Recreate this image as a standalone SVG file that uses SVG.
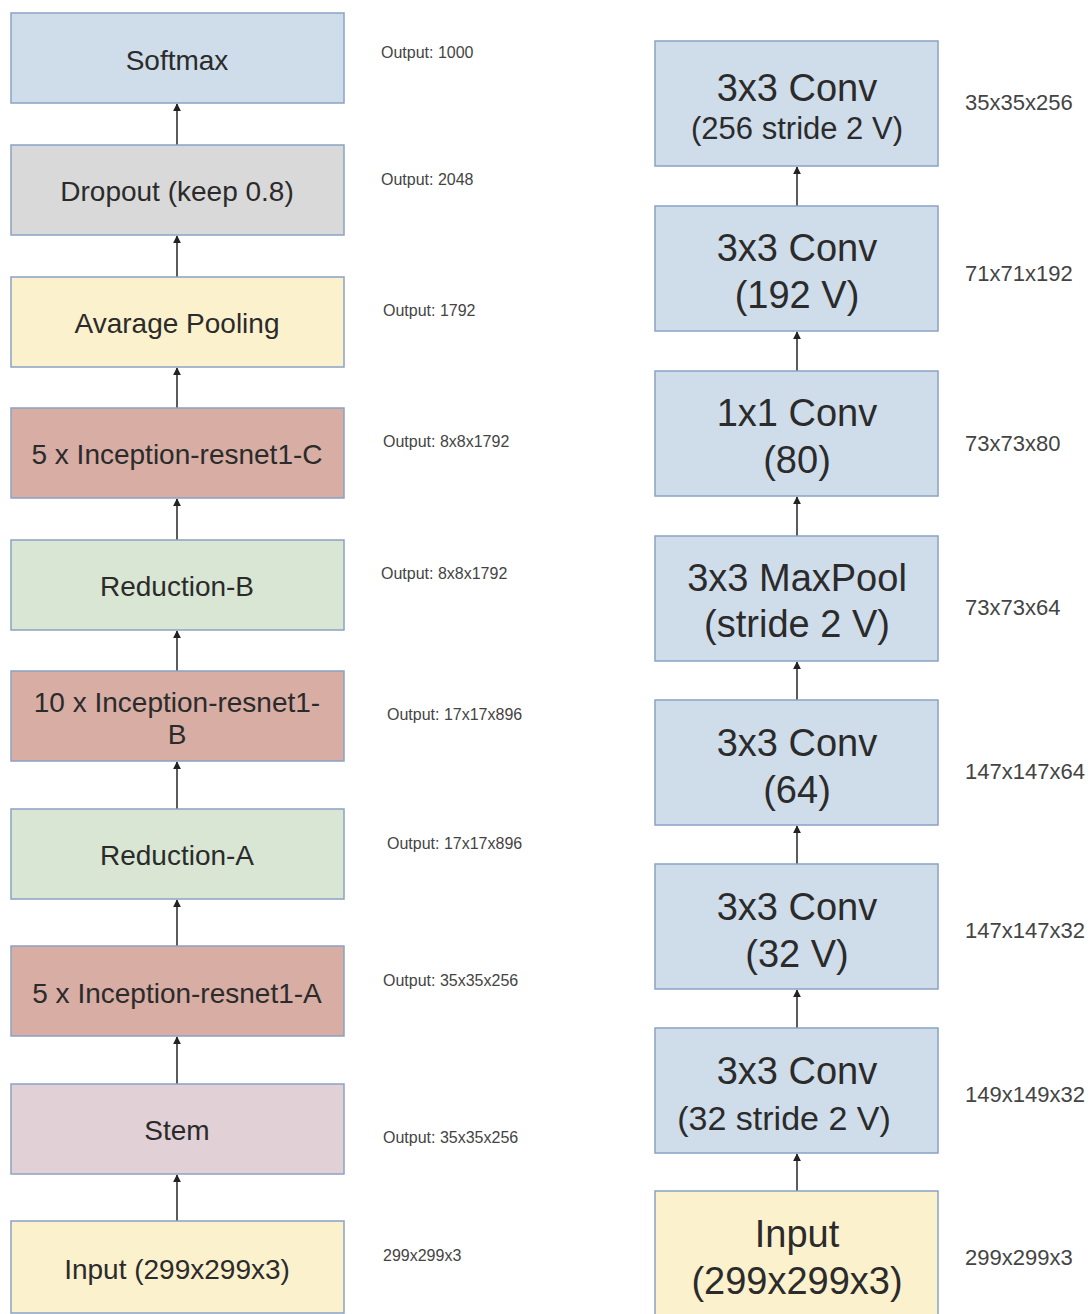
<svg xmlns="http://www.w3.org/2000/svg" width="1092" height="1314" viewBox="0 0 1092 1314">
<defs>
<marker id="ah" viewBox="0 0 10 10" refX="9" refY="5" markerWidth="8" markerHeight="8" markerUnits="userSpaceOnUse" orient="auto">
<path d="M0,0 L10,5 L0,10 z" fill="#222"/>
</marker>
<style>
.b{stroke:#8aa3c4;stroke-width:1.5}
.blue{fill:#cfdce9}
.grey{fill:#d9d9d9}
.yel{fill:#fcf1cd}
.red{fill:#d7ada4}
.grn{fill:#d9e6d4}
.pink{fill:#e2d0d7}
.lt{font-family:"Liberation Sans",Arial,sans-serif;font-size:28px;fill:#2b2b2b;text-anchor:middle}
.rt{font-family:"Liberation Sans",Arial,sans-serif;font-size:38px;fill:#2b2b2b;text-anchor:middle}
.sm{font-family:"Liberation Sans",Arial,sans-serif;font-size:16px;fill:#444}
.md{font-family:"Liberation Sans",Arial,sans-serif;font-size:22px;fill:#444}
.c{stroke:#333;stroke-width:1.6;fill:none;marker-end:url(#ah)}
</style>
</defs>
<rect width="1092" height="1314" fill="#ffffff"/>

<g id="connectors">
<line class="c" x1="177" y1="145" x2="177" y2="104"/>
<line class="c" x1="177" y1="277" x2="177" y2="236"/>
<line class="c" x1="177" y1="408" x2="177" y2="368"/>
<line class="c" x1="177" y1="540" x2="177" y2="499"/>
<line class="c" x1="177" y1="671" x2="177" y2="631"/>
<line class="c" x1="177" y1="809" x2="177" y2="762"/>
<line class="c" x1="177" y1="946" x2="177" y2="900"/>
<line class="c" x1="177" y1="1084" x2="177" y2="1037"/>
<line class="c" x1="177" y1="1221" x2="177" y2="1175"/>

<line class="c" x1="797" y1="206" x2="797" y2="167"/>
<line class="c" x1="797" y1="371" x2="797" y2="332"/>
<line class="c" x1="797" y1="536" x2="797" y2="497"/>
<line class="c" x1="797" y1="700" x2="797" y2="662"/>
<line class="c" x1="797" y1="864" x2="797" y2="826"/>
<line class="c" x1="797" y1="1028" x2="797" y2="990"/>
<line class="c" x1="797" y1="1191" x2="797" y2="1154"/>
</g>

<!-- Left column -->
<g id="softmax"><rect class="b blue" x="11" y="13" width="333" height="90"/><text class="lt" x="177" y="70">Softmax</text></g>
<g id="dropout"><rect class="b grey" x="11" y="145" width="333" height="90"/><text class="lt" x="177" y="201">Dropout (keep 0.8)</text></g>
<g id="avgpool"><rect class="b yel" x="11" y="277" width="333" height="90"/><text class="lt" x="177" y="333">Avarage Pooling</text></g>
<g id="incC"><rect class="b red" x="11" y="408" width="333" height="90"/><text class="lt" x="177" y="464">5 x Inception-resnet1-C</text></g>
<g id="redB"><rect class="b grn" x="11" y="540" width="333" height="90"/><text class="lt" x="177" y="596">Reduction-B</text></g>
<g id="incB"><rect class="b red" x="11" y="671" width="333" height="90"/><text class="lt" x="177" y="712">10 x Inception-resnet1-</text><text class="lt" x="177" y="744">B</text></g>
<g id="redA"><rect class="b grn" x="11" y="809" width="333" height="90"/><text class="lt" x="177" y="865">Reduction-A</text></g>
<g id="incA"><rect class="b red" x="11" y="946" width="333" height="90"/><text class="lt" x="177" y="1003">5 x Inception-resnet1-A</text></g>
<g id="stem"><rect class="b pink" x="11" y="1084" width="333" height="90"/><text class="lt" x="177" y="1140">Stem</text></g>
<g id="inputL"><rect class="b yel" x="11" y="1221" width="333" height="92"/><text class="lt" x="177" y="1279">Input (299x299x3)</text></g>

<g id="left-labels">
<text class="sm" x="381" y="58">Output: 1000</text>
<text class="sm" x="381" y="185">Output: 2048</text>
<text class="sm" x="383" y="316">Output: 1792</text>
<text class="sm" x="383" y="447">Output: 8x8x1792</text>
<text class="sm" x="381" y="579">Output: 8x8x1792</text>
<text class="sm" x="387" y="720">Output: 17x17x896</text>
<text class="sm" x="387" y="849">Output: 17x17x896</text>
<text class="sm" x="383" y="986">Output: 35x35x256</text>
<text class="sm" x="383" y="1143">Output: 35x35x256</text>
<text class="sm" x="383" y="1261">299x299x3</text>
</g>

<!-- Right column -->
<g id="conv256"><rect class="b blue" x="655" y="41" width="283" height="125"/><text class="rt" x="797" y="101">3x3 Conv</text><text class="rt" x="797" y="139" style="font-size:31px">(256 stride 2 V)</text></g>
<g id="conv192"><rect class="b blue" x="655" y="206" width="283" height="125"/><text class="rt" x="797" y="261">3x3 Conv</text><text class="rt" x="797" y="308">(192 V)</text></g>
<g id="conv80"><rect class="b blue" x="655" y="371" width="283" height="125"/><text class="rt" x="797" y="426">1x1 Conv</text><text class="rt" x="797" y="473">(80)</text></g>
<g id="maxpool"><rect class="b blue" x="655" y="536" width="283" height="125"/><text class="rt" x="797" y="591">3x3 MaxPool</text><text class="rt" x="797" y="637">(stride 2 V)</text></g>
<g id="conv64"><rect class="b blue" x="655" y="700" width="283" height="125"/><text class="rt" x="797" y="756">3x3 Conv</text><text class="rt" x="797" y="803">(64)</text></g>
<g id="conv32"><rect class="b blue" x="655" y="864" width="283" height="125"/><text class="rt" x="797" y="920">3x3 Conv</text><text class="rt" x="797" y="967">(32 V)</text></g>
<g id="conv32s"><rect class="b blue" x="655" y="1028" width="283" height="125"/><text class="rt" x="797" y="1084">3x3 Conv</text><text class="rt" x="784" y="1130" style="font-size:34px">(32 stride 2 V)</text></g>
<g id="inputR"><rect class="b yel" x="655" y="1191" width="283" height="130"/><text class="rt" x="797" y="1247">Input</text><text class="rt" x="797" y="1294">(299x299x3)</text></g>

<g id="right-labels">
<text class="md" x="965" y="110">35x35x256</text>
<text class="md" x="965" y="281">71x71x192</text>
<text class="md" x="965" y="451">73x73x80</text>
<text class="md" x="965" y="615">73x73x64</text>
<text class="md" x="965" y="779">147x147x64</text>
<text class="md" x="965" y="938">147x147x32</text>
<text class="md" x="965" y="1102">149x149x32</text>
<text class="md" x="965" y="1265">299x299x3</text>
</g>
</svg>
